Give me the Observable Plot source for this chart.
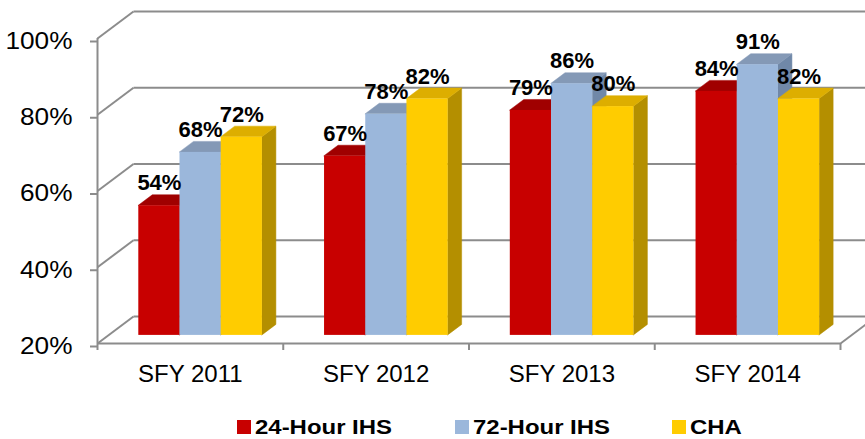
<!DOCTYPE html>
<html><head><meta charset="utf-8">
<script src="https://cdn.jsdelivr.net/npm/d3@7"></script>
<script src="https://cdn.jsdelivr.net/npm/@observablehq/plot@0.6"></script>
<style>
body{margin:0;background:#fff;font-family:"Liberation Sans",Arial,sans-serif;}
#legend{position:relative;width:865px;height:39px;}
.item{position:absolute;top:0;height:39px;}
.sw{position:absolute;top:20px;left:0;width:14px;height:14px;}
.lt{position:absolute;top:18px;left:18px;font-weight:bold;font-size:21px;line-height:17px;white-space:nowrap;color:#000;transform:scaleX(1.14);transform-origin:0 0;}
</style></head><body>
<div id="chart"></div><div id="legend"></div>
<script>
// ---- data ----
const categories = ["SFY 2011", "SFY 2012", "SFY 2013", "SFY 2014"];
const seriesNames = ["24-Hour IHS", "72-Hour IHS", "CHA"];
const ihs24 = [54, 67, 79, 84];
const ihs72 = [68, 78, 86, 91];
const cha = [72, 82, 80, 82];
const yTicks = [20, 40, 60, 80, 100];

// ---- styles ----
const frontColors = ["#C80000", "#9BB7DB", "#FFCC00"];
const topColors = ["#A00000", "#8499B6", "#DDAE00"];
const sideColors = ["#8A0000", "#7088A8", "#B48F00"];
const gridColor = "#8c8c8c";

// ---- layout ----
const W = 865, H = 400;
const mL = 97, mR = 25, mT = 38, mB = 57;
const yMin = yTicks[0], yMax = yTicks[yTicks.length - 1];
const nCat = categories.length;
const xPx = (W - mL - mR) / nCat;
const yPx = (H - mT - mB) / (yMax - yMin);
const u = px => px / xPx;   // pixels -> x units
const v = px => px / yPx;   // pixels -> y units
const wallDX = 36, wallDY = 27;
const barInset = 30.5, barW = 41.2, barFrontDX = 10.8, barFrontDY = 8.1, barDepthDX = 14, barDepthDY = 10.5;
const labelDx = [1, 8, 22];

const seriesValues = [ihs24, ihs72, cha];
const bars = [];
categories.forEach((c, i) => seriesValues.forEach((vals, j) => {
  const x1 = i + u(barInset + j * barW + barFrontDX);
  const x2 = x1 + u(barW);
  bars.push({id: i + "-" + j, i, j, cat: c, value: vals[i], x1, x2,
    yb: yMin + v(barFrontDY), yt: vals[i] + v(barFrontDY)});
}));
const sidePts = bars.flatMap(b => [
  {id: b.id, j: b.j, x: b.x2, y1: b.yb, y2: b.yt},
  {id: b.id, j: b.j, x: b.x2 + u(barDepthDX), y1: b.yb + v(barDepthDY), y2: b.yt + v(barDepthDY)}
]);
const topPts = bars.flatMap(b => [
  {id: b.id, j: b.j, y: b.yt, x1: b.x1, x2: b.x2},
  {id: b.id, j: b.j, y: b.yt + v(barDepthDY), x1: b.x1 + u(barDepthDX), x2: b.x2 + u(barDepthDX)}
]);

const barMarks = [];
seriesNames.forEach((s, j) => {
  barMarks.push(Plot.areaY(sidePts.filter(d => d.j === j), {x: "x", y1: "y1", y2: "y2", z: "id", fill: sideColors[j], stroke: sideColors[j], strokeWidth: 0.5, curve: "linear"}));
  barMarks.push(Plot.areaX(topPts.filter(d => d.j === j), {y: "y", x1: "x1", x2: "x2", z: "id", fill: topColors[j], stroke: topColors[j], strokeWidth: 0.5, curve: "linear"}));
  barMarks.push(Plot.rect(bars.filter(d => d.j === j), {x1: "x1", x2: "x2", y1: "yb", y2: "yt", fill: frontColors[j]}));
});

const plot = Plot.plot({
  width: W, height: H,
  marginLeft: mL, marginRight: mR, marginTop: mT, marginBottom: mB,
  style: {fontFamily: "'Liberation Sans', Arial, sans-serif", color: "#000", background: "#fff", overflow: "hidden"},
  x: {type: "linear", domain: [0, nCat], axis: null},
  y: {type: "linear", domain: [yMin, yMax], axis: null},
  marks: [
    Plot.link(yTicks, {x1: u(wallDX), x2: nCat + u(mR), y1: t => t + v(wallDY), y2: t => t + v(wallDY), stroke: gridColor, strokeWidth: 2}),
    Plot.link(yTicks, {x1: 0, y1: t => t, x2: u(wallDX), y2: t => t + v(wallDY), stroke: gridColor, strokeWidth: 2}),
    Plot.link([yMin], {x1: nCat, y1: t => t, x2: nCat + u(mR), y2: t => t + v(wallDY * mR / wallDX), stroke: gridColor, strokeWidth: 2}),
    Plot.ruleY([yMin], {stroke: gridColor, strokeWidth: 2}),
    Plot.ruleX([0], {y1: yMin, y2: yMax, stroke: gridColor, strokeWidth: 2}),
    Plot.axisY(yTicks, {tickSize: 7, tickPadding: 18, fontSize: 23, dy: 3, tickFormat: d => d + "%", stroke: gridColor, strokeWidth: 2, fill: "#000"}),
    Plot.axisX(d3.range(nCat + 1), {tickSize: 7, tickFormat: () => "", stroke: gridColor, strokeWidth: 2}),
    Plot.axisX(categories.map((c, i) => i + 0.5), {tickSize: 0, tickPadding: 21, fontSize: 24, tickFormat: d => categories[Math.floor(d)], fill: "#000"}),
    ...barMarks,
    Plot.text(bars, {x: d => (d.x1 + d.x2) / 2, y: d => d.yt + v(barDepthDY), text: d => d.value + "%",
      lineAnchor: "bottom", dy: -5, fontSize: 22, fontWeight: "bold", fill: "#000", ariaLabel: "value-label"})
  ]
});
document.getElementById("chart").appendChild(plot);
// per-series label nudges (as in the original chart) and horizontal stretch
plot.querySelectorAll('g[aria-label="value-label"] text').forEach((t, k) => {
  const b = bars[k];
  const tr = t.getAttribute("transform") || "";
  t.setAttribute("transform", tr + ` translate(${labelDx[b.j]},0) scale(1.14,1)`);
});
plot.querySelectorAll('g[aria-label="y-axis tick label"] text').forEach(t => {
  const tr = t.getAttribute("transform");
  if (tr) t.setAttribute("transform", tr + " scale(1.14,1)");
});

// legend
const legend = document.getElementById("legend");
const legendLeft = [237, 455, 672];
seriesNames.forEach((s, j) => {
  const it = document.createElement("div");
  it.className = "item"; it.style.left = legendLeft[j] + "px";
  it.innerHTML = `<div class="sw" style="background:${frontColors[j]}"></div><div class="lt"></div>`;
  it.querySelector(".lt").textContent = s;
  legend.appendChild(it);
});
</script>
</body></html>
